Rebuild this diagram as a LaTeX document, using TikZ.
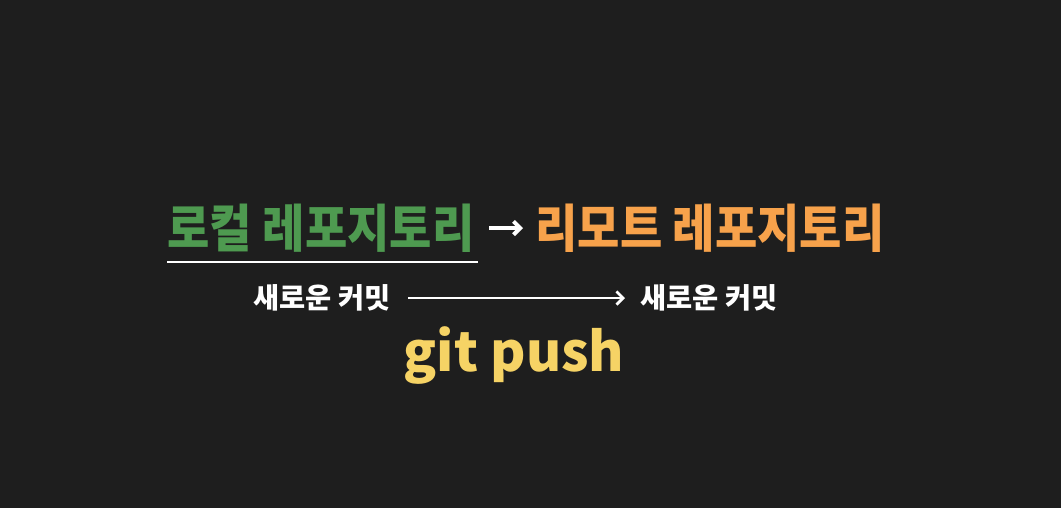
\documentclass[tikz,border=0pt]{standalone}
\usepackage{fontspec}
\newfontfamily\cjk{Noto Sans CJK KR}
\usetikzlibrary{arrows.meta}
\definecolor{bg}{HTML}{1E1E1E}
\definecolor{lgreen}{HTML}{4E9A50}
\definecolor{lorange}{HTML}{F7A24B}
\definecolor{lyellow}{HTML}{F6D365}
\tikzset{
  title/.style={font=\cjk\bfseries\fontsize{34.5pt}{40pt}\selectfont, inner sep=0pt, anchor=center, yscale=1.12, transform shape},
  small/.style={font=\cjk\bfseries\fontsize{21.3pt}{25pt}\selectfont, text=white, inner sep=0pt, anchor=center},
  cmd/.style={font=\cjk\bfseries\fontsize{40.5pt}{46pt}\selectfont, text=lyellow, inner sep=0pt, anchor=center},
  whiteline/.style={white, line width=2pt},
}
\begin{document}
\begin{tikzpicture}[x=0.75pt,y=-0.75pt]
\fill[bg] (0,0) rectangle (1061,508);
\useasboundingbox (0,0) rectangle (1061,508);
\node[title, text=lgreen] (local) at (321,228) {로컬 레포지토리};
\draw[white, line width=2.2pt] (167,262) coordinate (ul1) -- (478,262) coordinate (ul2);
\node[title, text=lorange] (remote) at (710,228) {리모트 레포지토리};
\coordinate (a1) at (489,228);
\coordinate (a2) at (523,228);
\draw[white, line width=3pt, -{Straight Barb[length=5pt, width=10pt, line width=3pt]}] (a1) -- (a2);
\node[small] (c1) at (322,298) {새로운 커밋};
\node[small] (c2) at (709,298) {새로운 커밋};
\draw[whiteline, -{Straight Barb[length=5pt, width=10pt, line width=2pt]}] (408,298) -- (625,298);
\node[cmd] (git) at (514,356) {git push};
\end{tikzpicture}
\end{document}
